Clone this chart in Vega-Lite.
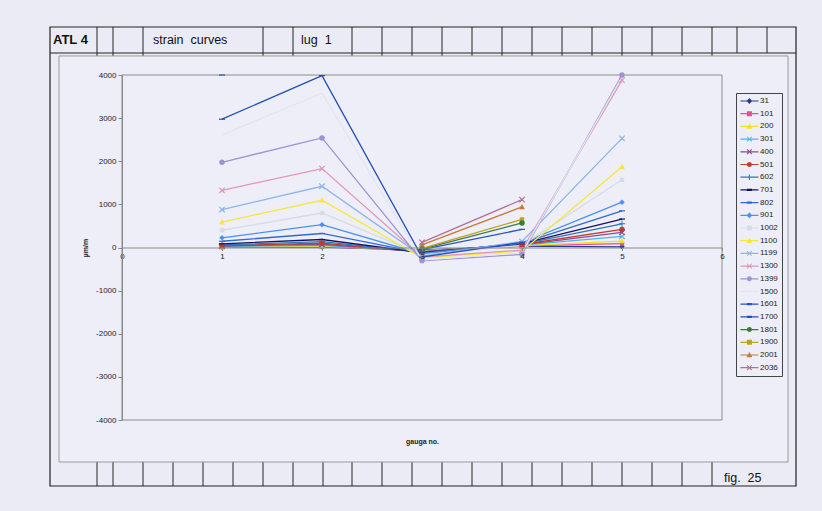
{
"$schema":"https://vega.github.io/schema/vega-lite/v6.json",
"width":600,"height":345,
"autosize":{"type":"none"},
"padding":{"left":122,"top":75,"right":100,"bottom":91},
"background":"#ebebf5",
"config":{"view":{"stroke":null},"font":"Liberation Sans",
 "legend":{"orient":"none","legendX":614,"legendY":18,"labelFontSize":8,"labelFont":"Liberation Sans","labelColor":"#222","padding":4,"strokeColor":"#444","fillColor":"#eeeef8","rowPadding":4.7,"symbolSize":52,"labelOffset":12,"symbolStrokeWidth":0}},
"data":{"values":[
{"series":"31","gauge":1,"strain":5},{"series":"31","gauge":2,"strain":10},{"series":"31","gauge":3,"strain":-60},{"series":"31","gauge":4,"strain":30},{"series":"31","gauge":5,"strain":15},
{"series":"101","gauge":1,"strain":10},{"series":"101","gauge":2,"strain":20},{"series":"101","gauge":3,"strain":-70},{"series":"101","gauge":4,"strain":40},{"series":"101","gauge":5,"strain":90},
{"series":"200","gauge":1,"strain":15},{"series":"200","gauge":2,"strain":35},{"series":"200","gauge":3,"strain":-80},{"series":"200","gauge":4,"strain":45},{"series":"200","gauge":5,"strain":150},
{"series":"301","gauge":1,"strain":25},{"series":"301","gauge":2,"strain":50},{"series":"301","gauge":3,"strain":-90},{"series":"301","gauge":4,"strain":55},{"series":"301","gauge":5,"strain":260},
{"series":"400","gauge":1,"strain":35},{"series":"400","gauge":2,"strain":75},{"series":"400","gauge":3,"strain":-100},{"series":"400","gauge":4,"strain":60},{"series":"400","gauge":5,"strain":350},
{"series":"501","gauge":1,"strain":45},{"series":"501","gauge":2,"strain":100},{"series":"501","gauge":3,"strain":-100},{"series":"501","gauge":4,"strain":70},{"series":"501","gauge":5,"strain":420},
{"series":"602","gauge":1,"strain":60},{"series":"602","gauge":2,"strain":135},{"series":"602","gauge":3,"strain":-110},{"series":"602","gauge":4,"strain":80},{"series":"602","gauge":5,"strain":550},
{"series":"701","gauge":1,"strain":85},{"series":"701","gauge":2,"strain":185},{"series":"701","gauge":3,"strain":-120},{"series":"701","gauge":4,"strain":90},{"series":"701","gauge":5,"strain":660},
{"series":"802","gauge":1,"strain":145},{"series":"802","gauge":2,"strain":325},{"series":"802","gauge":3,"strain":-130},{"series":"802","gauge":4,"strain":100},{"series":"802","gauge":5,"strain":850},
{"series":"901","gauge":1,"strain":225},{"series":"901","gauge":2,"strain":530},{"series":"901","gauge":3,"strain":-150},{"series":"901","gauge":4,"strain":110},{"series":"901","gauge":5,"strain":1050},
{"series":"1002","gauge":1,"strain":400},{"series":"1002","gauge":2,"strain":800},{"series":"1002","gauge":3,"strain":-170},{"series":"1002","gauge":4,"strain":50},{"series":"1002","gauge":5,"strain":1570},
{"series":"1100","gauge":1,"strain":590},{"series":"1100","gauge":2,"strain":1095},{"series":"1100","gauge":3,"strain":-240},{"series":"1100","gauge":4,"strain":-85},{"series":"1100","gauge":5,"strain":1870},
{"series":"1199","gauge":1,"strain":880},{"series":"1199","gauge":2,"strain":1420},{"series":"1199","gauge":3,"strain":-200},{"series":"1199","gauge":4,"strain":140},{"series":"1199","gauge":5,"strain":2530},
{"series":"1300","gauge":1,"strain":1325},{"series":"1300","gauge":2,"strain":1830},{"series":"1300","gauge":3,"strain":-220},{"series":"1300","gauge":4,"strain":-60},{"series":"1300","gauge":5,"strain":3880},
{"series":"1399","gauge":1,"strain":1975},{"series":"1399","gauge":2,"strain":2540},{"series":"1399","gauge":3,"strain":-310},{"series":"1399","gauge":4,"strain":-160},{"series":"1399","gauge":5,"strain":4000},
{"series":"1500","gauge":1,"strain":2610},{"series":"1500","gauge":2,"strain":3580},{"series":"1500","gauge":3,"strain":-290},{"series":"1500","gauge":4,"strain":-120},{"series":"1500","gauge":5,"strain":3950},
{"series":"1601","gauge":1,"strain":4000},{"series":"1601","gauge":2,"strain":null},{"series":"1601","gauge":3,"strain":-50},{"series":"1601","gauge":4,"strain":420},
{"series":"1700","gauge":1,"strain":2975},{"series":"1700","gauge":2,"strain":3985},{"series":"1700","gauge":3,"strain":-220},{"series":"1700","gauge":4,"strain":120},
{"series":"1801","gauge":3,"strain":-40},{"series":"1801","gauge":4,"strain":570},
{"series":"1900","gauge":3,"strain":-20},{"series":"1900","gauge":4,"strain":650},
{"series":"2001","gauge":3,"strain":60},{"series":"2001","gauge":4,"strain":940},
{"series":"2036","gauge":3,"strain":120},{"series":"2036","gauge":4,"strain":1110}
]},
"layer":[
{"data":{"values":[{}]},"mark":{"type":"rule","color":"#222","strokeWidth":1},"encoding":{"x":{"datum":-0.25,"scale":{"domain":[0,6],"nice":false,"zero":false}},"y":{"datum":5113,"scale":{"domain":[-4000,4000],"nice":false,"zero":false}},"y2":{"datum":-5530}}},
{"data":{"values":[{}]},"mark":{"type":"rule","color":"#222","strokeWidth":1},"encoding":{"x":{"datum":-0.09,"scale":{"domain":[0,6],"nice":false,"zero":false}},"y":{"datum":5113,"scale":{"domain":[-4000,4000],"nice":false,"zero":false}},"y2":{"datum":-5530}}},
{"data":{"values":[{}]},"mark":{"type":"rule","color":"#222","strokeWidth":1},"encoding":{"x":{"datum":0.21,"scale":{"domain":[0,6],"nice":false,"zero":false}},"y":{"datum":5113,"scale":{"domain":[-4000,4000],"nice":false,"zero":false}},"y2":{"datum":-5530}}},
{"data":{"values":[{}]},"mark":{"type":"rule","color":"#222","strokeWidth":1},"encoding":{"x":{"datum":1.41,"scale":{"domain":[0,6],"nice":false,"zero":false}},"y":{"datum":5113,"scale":{"domain":[-4000,4000],"nice":false,"zero":false}},"y2":{"datum":-5530}}},
{"data":{"values":[{}]},"mark":{"type":"rule","color":"#222","strokeWidth":1},"encoding":{"x":{"datum":1.71,"scale":{"domain":[0,6],"nice":false,"zero":false}},"y":{"datum":5113,"scale":{"domain":[-4000,4000],"nice":false,"zero":false}},"y2":{"datum":-5530}}},
{"data":{"values":[{}]},"mark":{"type":"rule","color":"#222","strokeWidth":1},"encoding":{"x":{"datum":2.30,"scale":{"domain":[0,6],"nice":false,"zero":false}},"y":{"datum":5113,"scale":{"domain":[-4000,4000],"nice":false,"zero":false}},"y2":{"datum":-5530}}},
{"data":{"values":[{}]},"mark":{"type":"rule","color":"#222","strokeWidth":1},"encoding":{"x":{"datum":2.60,"scale":{"domain":[0,6],"nice":false,"zero":false}},"y":{"datum":5113,"scale":{"domain":[-4000,4000],"nice":false,"zero":false}},"y2":{"datum":-5530}}},
{"data":{"values":[{}]},"mark":{"type":"rule","color":"#222","strokeWidth":1},"encoding":{"x":{"datum":2.90,"scale":{"domain":[0,6],"nice":false,"zero":false}},"y":{"datum":5113,"scale":{"domain":[-4000,4000],"nice":false,"zero":false}},"y2":{"datum":-5530}}},
{"data":{"values":[{}]},"mark":{"type":"rule","color":"#222","strokeWidth":1},"encoding":{"x":{"datum":3.20,"scale":{"domain":[0,6],"nice":false,"zero":false}},"y":{"datum":5113,"scale":{"domain":[-4000,4000],"nice":false,"zero":false}},"y2":{"datum":-5530}}},
{"data":{"values":[{}]},"mark":{"type":"rule","color":"#222","strokeWidth":1},"encoding":{"x":{"datum":3.50,"scale":{"domain":[0,6],"nice":false,"zero":false}},"y":{"datum":5113,"scale":{"domain":[-4000,4000],"nice":false,"zero":false}},"y2":{"datum":-5530}}},
{"data":{"values":[{}]},"mark":{"type":"rule","color":"#222","strokeWidth":1},"encoding":{"x":{"datum":3.80,"scale":{"domain":[0,6],"nice":false,"zero":false}},"y":{"datum":5113,"scale":{"domain":[-4000,4000],"nice":false,"zero":false}},"y2":{"datum":-5530}}},
{"data":{"values":[{}]},"mark":{"type":"rule","color":"#222","strokeWidth":1},"encoding":{"x":{"datum":4.10,"scale":{"domain":[0,6],"nice":false,"zero":false}},"y":{"datum":5113,"scale":{"domain":[-4000,4000],"nice":false,"zero":false}},"y2":{"datum":-5530}}},
{"data":{"values":[{}]},"mark":{"type":"rule","color":"#222","strokeWidth":1},"encoding":{"x":{"datum":4.40,"scale":{"domain":[0,6],"nice":false,"zero":false}},"y":{"datum":5113,"scale":{"domain":[-4000,4000],"nice":false,"zero":false}},"y2":{"datum":-5530}}},
{"data":{"values":[{}]},"mark":{"type":"rule","color":"#222","strokeWidth":1},"encoding":{"x":{"datum":4.70,"scale":{"domain":[0,6],"nice":false,"zero":false}},"y":{"datum":5113,"scale":{"domain":[-4000,4000],"nice":false,"zero":false}},"y2":{"datum":-5530}}},
{"data":{"values":[{}]},"mark":{"type":"rule","color":"#222","strokeWidth":1},"encoding":{"x":{"datum":5.00,"scale":{"domain":[0,6],"nice":false,"zero":false}},"y":{"datum":5113,"scale":{"domain":[-4000,4000],"nice":false,"zero":false}},"y2":{"datum":-5530}}},
{"data":{"values":[{}]},"mark":{"type":"rule","color":"#222","strokeWidth":1},"encoding":{"x":{"datum":5.30,"scale":{"domain":[0,6],"nice":false,"zero":false}},"y":{"datum":5113,"scale":{"domain":[-4000,4000],"nice":false,"zero":false}},"y2":{"datum":-5530}}},
{"data":{"values":[{}]},"mark":{"type":"rule","color":"#222","strokeWidth":1},"encoding":{"x":{"datum":5.60,"scale":{"domain":[0,6],"nice":false,"zero":false}},"y":{"datum":5113,"scale":{"domain":[-4000,4000],"nice":false,"zero":false}},"y2":{"datum":-5530}}},
{"data":{"values":[{}]},"mark":{"type":"rule","color":"#222","strokeWidth":1},"encoding":{"x":{"datum":5.90,"scale":{"domain":[0,6],"nice":false,"zero":false}},"y":{"datum":5113,"scale":{"domain":[-4000,4000],"nice":false,"zero":false}},"y2":{"datum":-5530}}},
{"data":{"values":[{}]},"mark":{"type":"rule","color":"#222","strokeWidth":1},"encoding":{"x":{"datum":6.15,"scale":{"domain":[0,6],"nice":false,"zero":false}},"y":{"datum":5113,"scale":{"domain":[-4000,4000],"nice":false,"zero":false}},"y2":{"datum":4510}}},
{"data":{"values":[{}]},"mark":{"type":"rule","color":"#222","strokeWidth":1},"encoding":{"x":{"datum":6.45,"scale":{"domain":[0,6],"nice":false,"zero":false}},"y":{"datum":5113,"scale":{"domain":[-4000,4000],"nice":false,"zero":false}},"y2":{"datum":4510}}},
{"data":{"values":[{}]},"mark":{"type":"rule","color":"#222","strokeWidth":1},"encoding":{"x":{"datum":0.51,"scale":{"domain":[0,6],"nice":false,"zero":false}},"y":{"datum":-4974,"scale":{"domain":[-4000,4000],"nice":false,"zero":false}},"y2":{"datum":-5530}}},
{"data":{"values":[{}]},"mark":{"type":"rule","color":"#222","strokeWidth":1},"encoding":{"x":{"datum":0.81,"scale":{"domain":[0,6],"nice":false,"zero":false}},"y":{"datum":-4974,"scale":{"domain":[-4000,4000],"nice":false,"zero":false}},"y2":{"datum":-5530}}},
{"data":{"values":[{}]},"mark":{"type":"rule","color":"#222","strokeWidth":1},"encoding":{"x":{"datum":1.11,"scale":{"domain":[0,6],"nice":false,"zero":false}},"y":{"datum":-4974,"scale":{"domain":[-4000,4000],"nice":false,"zero":false}},"y2":{"datum":-5530}}},
{"data":{"values":[{}]},"mark":{"type":"rule","color":"#222","strokeWidth":1},"encoding":{"x":{"datum":2.01,"scale":{"domain":[0,6],"nice":false,"zero":false}},"y":{"datum":-4974,"scale":{"domain":[-4000,4000],"nice":false,"zero":false}},"y2":{"datum":-5530}}},
{"data":{"values":[{}]},"mark":{"type":"rect","fill":"#eeeef8","stroke":"#9a9a9a","strokeWidth":1},"encoding":{"x":{"datum":-0.63,"scale":{"domain":[0,6],"nice":false,"zero":false}},"x2":{"datum":6.66},"y":{"datum":4441,"scale":{"domain":[-4000,4000],"nice":false,"zero":false}},"y2":{"datum":-4974}}},
{"data":{"values":[{}]},"mark":{"type":"rect","fillOpacity":0,"stroke":"#222","strokeWidth":1.2},"encoding":{"x":{"datum":-0.72,"scale":{"domain":[0,6],"nice":false,"zero":false}},"x2":{"datum":6.74},"y":{"datum":5113,"scale":{"domain":[-4000,4000],"nice":false,"zero":false}},"y2":{"datum":-5530}}},
{"data":{"values":[{}]},"mark":{"type":"rule","color":"#222","strokeWidth":1},"encoding":{"x":{"datum":-0.72,"scale":{"domain":[0,6],"nice":false,"zero":false}},"x2":{"datum":6.74},"y":{"datum":4510,"scale":{"domain":[-4000,4000],"nice":false,"zero":false}}}},
{"data":{"values":[{}]},"mark":{"type":"rect","fillOpacity":0,"stroke":"#8c8c8c","strokeWidth":1},"encoding":{"x":{"datum":0,"scale":{"domain":[0,6],"nice":false,"zero":false}},"x2":{"datum":6},"y":{"datum":4000,"scale":{"domain":[-4000,4000],"nice":false,"zero":false}},"y2":{"datum":-4000}}},
{"data":{"values":[{}]},"mark":{"type":"text","text":"ATL 4","align":"left","baseline":"middle","fontSize":13,"fontWeight":"bold","color":"#111"},"encoding":{"x":{"datum":-0.69,"scale":{"domain":[0,6],"nice":false,"zero":false}},"y":{"datum":4812,"scale":{"domain":[-4000,4000],"nice":false,"zero":false}}}},
{"data":{"values":[{}]},"mark":{"type":"text","text":"strain\u00a0 curves","align":"left","baseline":"middle","fontSize":12.5,"color":"#111"},"encoding":{"x":{"datum":0.31,"scale":{"domain":[0,6],"nice":false,"zero":false}},"y":{"datum":4812,"scale":{"domain":[-4000,4000],"nice":false,"zero":false}}}},
{"data":{"values":[{}]},"mark":{"type":"text","text":"lug\u00a0 1","align":"left","baseline":"middle","fontSize":12.5,"color":"#111"},"encoding":{"x":{"datum":1.79,"scale":{"domain":[0,6],"nice":false,"zero":false}},"y":{"datum":4812,"scale":{"domain":[-4000,4000],"nice":false,"zero":false}}}},
{"data":{"values":[{}]},"mark":{"type":"text","text":"fig.\u00a0 25","align":"left","baseline":"middle","fontSize":12.5,"color":"#111"},"encoding":{"x":{"datum":6.02,"scale":{"domain":[0,6],"nice":false,"zero":false}},"y":{"datum":-5348,"scale":{"domain":[-4000,4000],"nice":false,"zero":false}}}},
{"mark":{"type":"line","strokeWidth":1.3},
 "encoding":{
  "x":{"field":"gauge","type":"quantitative","scale":{"domain":[0,6],"nice":false,"zero":false},
       "axis":{"values":[0,1,2,3,4,5,6],"labelExpr":"'' + datum.value","offset":-172.5,"zindex":1,"labelFontSize":8,"labelColor":"#222","tickSize":3,"tickColor":"#888","domainColor":"#888","labelPadding":2,"labelFlush":false,"grid":false,"title":"gauga no.","titleFontSize":7,"titleFontWeight":"bold","titleColor":"#222","titleX":300,"titleY":189.5}},
  "y":{"field":"strain","type":"quantitative","scale":{"domain":[-4000,4000],"nice":false,"zero":false},
       "axis":{"values":[-4000,-3000,-2000,-1000,0,1000,2000,3000,4000],"labelExpr":"'' + datum.value","zindex":1,"labelFontSize":8,"labelColor":"#222","tickSize":4,"tickColor":"#888","domainColor":"#888","grid":false,"title":"µm/m","titleFontSize":7,"titleFontWeight":"bold","titleColor":"#222","titleX":-34,"titleY":172.5}},
  "color":{"field":"series","type":"nominal","legend":{"title":null},
   "scale":{"domain":["31","101","200","301","400","501","602","701","802","901","1002","1100","1199","1300","1399","1500","1601","1700","1801","1900","2001","2036"],
            "range":["#2a3a8e","#e2508e","#f2e21e","#4db4ea","#8e4c8e","#c43a32","#2f78b8","#14145e","#3566d6","#4a92ea","#d4dce8","#f6e838","#8cb4ea","#e294b4","#9c94d4","#e2e6f2","#2456c4","#2250b6","#3c7a3c","#bca222","#c47c34","#b27294"]}}}},
{"transform":[{"filter":{"field":"series","oneOf":["31","901"]}}],"mark":{"type":"point","filled":true,"opacity":1,"size":30,"shape":"M0,-1L1,0L0,1L-1,0Z"},"encoding":{"x":{"field":"gauge","type":"quantitative"},"y":{"field":"strain","type":"quantitative"},"color":{"field":"series","type":"nominal","legend":{"title":null}}}},
{"transform":[{"filter":{"field":"series","oneOf":["101","1002","1900"]}}],"mark":{"type":"point","filled":true,"opacity":1,"size":30,"shape":"M-0.8,-0.8H0.8V0.8H-0.8Z"},"encoding":{"x":{"field":"gauge","type":"quantitative"},"y":{"field":"strain","type":"quantitative"},"color":{"field":"series","type":"nominal","legend":{"title":null}}}},
{"transform":[{"filter":{"field":"series","oneOf":["200","1100","2001"]}}],"mark":{"type":"point","filled":true,"opacity":1,"size":34,"shape":"M0,-1L1,0.8H-1Z"},"encoding":{"x":{"field":"gauge","type":"quantitative"},"y":{"field":"strain","type":"quantitative"},"color":{"field":"series","type":"nominal","legend":{"title":null}}}},
{"transform":[{"filter":{"field":"series","oneOf":["301","400","1199","1300","2036"]}}],"mark":{"type":"point","filled":true,"opacity":1,"size":40,"shape":"M-1,-0.73L-0.73,-1L0,-0.27L0.73,-1L1,-0.73L0.27,0L1,0.73L0.73,1L0,0.27L-0.73,1L-1,0.73L-0.27,0Z"},"encoding":{"x":{"field":"gauge","type":"quantitative"},"y":{"field":"strain","type":"quantitative"},"color":{"field":"series","type":"nominal","legend":{"title":null}}}},
{"transform":[{"filter":{"field":"series","oneOf":["602"]}}],"mark":{"type":"point","filled":true,"opacity":1,"size":40,"shape":"M-1,-0.15H-0.15V-1H0.15V-0.15H1V0.15H0.15V1H-0.15V0.15H-1Z"},"encoding":{"x":{"field":"gauge","type":"quantitative"},"y":{"field":"strain","type":"quantitative"},"color":{"field":"series","type":"nominal","legend":{"title":null}}}},
{"transform":[{"filter":{"field":"series","oneOf":["501","1399","1801"]}}],"mark":{"type":"point","filled":true,"opacity":1,"size":30,"shape":"circle"},"encoding":{"x":{"field":"gauge","type":"quantitative"},"y":{"field":"strain","type":"quantitative"},"color":{"field":"series","type":"nominal","legend":{"title":null}}}},
{"transform":[{"filter":{"field":"series","oneOf":["701","802","1601","1700"]}}],"mark":{"type":"point","filled":true,"opacity":1,"size":36,"shape":"M-1,-0.2H1V0.2H-1Z"},"encoding":{"x":{"field":"gauge","type":"quantitative"},"y":{"field":"strain","type":"quantitative"},"color":{"field":"series","type":"nominal","legend":{"title":null}}}},
{"transform":[{"filter":"false"}],"mark":{"type":"point","filled":true,"opacity":1,"size":52},
 "encoding":{"x":{"field":"gauge","type":"quantitative"},"y":{"field":"strain","type":"quantitative"},
  "color":{"field":"series","type":"nominal","legend":{"title":null}},
  "shape":{"field":"series","type":"nominal","legend":{"title":null},
   "scale":{"domain":["31","101","200","301","400","501","602","701","802","901","1002","1100","1199","1300","1399","1500","1601","1700","1801","1900","2001","2036"],
   "range":[
   "M-1,-0.17H4V0.17H-1ZM1.5,-0.8L2.3,0L1.5,0.8L0.7,0Z",
   "M-1,-0.17H4V0.17H-1ZM0.8,-0.7H2.2V0.7H0.8Z",
   "M-1,-0.17H4V0.17H-1ZM1.5,-0.8L2.3,0.65H0.7Z",
   "M-1,-0.17H4V0.17H-1ZM0.75,-0.55L0.95,-0.75L1.5,-0.2L2.05,-0.75L2.25,-0.55L1.7,0L2.25,0.55L2.05,0.75L1.5,0.2L0.95,0.75L0.75,0.55L1.3,0Z",
   "M-1,-0.17H4V0.17H-1ZM0.75,-0.55L0.95,-0.75L1.5,-0.2L2.05,-0.75L2.25,-0.55L1.7,0L2.25,0.55L2.05,0.75L1.5,0.2L0.95,0.75L0.75,0.55L1.3,0Z",
   "M-1,-0.17H4V0.17H-1ZM0.8,0A0.7,0.7,0,1,1,2.2,0A0.7,0.7,0,1,1,0.8,0Z",
   "M-1,-0.17H4V0.17H-1ZM0.75,-0.15H1.35V-0.75H1.65V-0.15H2.25V0.15H1.65V0.75H1.35V0.15H0.75Z",
   "M-1,-0.17H4V0.17H-1ZM0.8,-0.3H2.2V0.3H0.8Z",
   "M-1,-0.17H4V0.17H-1ZM0.8,-0.3H2.2V0.3H0.8Z",
   "M-1,-0.17H4V0.17H-1ZM1.5,-0.8L2.3,0L1.5,0.8L0.7,0Z",
   "M-1,-0.17H4V0.17H-1ZM0.8,-0.7H2.2V0.7H0.8Z",
   "M-1,-0.17H4V0.17H-1ZM1.5,-0.8L2.3,0.65H0.7Z",
   "M-1,-0.17H4V0.17H-1ZM0.75,-0.55L0.95,-0.75L1.5,-0.2L2.05,-0.75L2.25,-0.55L1.7,0L2.25,0.55L2.05,0.75L1.5,0.2L0.95,0.75L0.75,0.55L1.3,0Z",
   "M-1,-0.17H4V0.17H-1ZM0.75,-0.55L0.95,-0.75L1.5,-0.2L2.05,-0.75L2.25,-0.55L1.7,0L2.25,0.55L2.05,0.75L1.5,0.2L0.95,0.75L0.75,0.55L1.3,0Z",
   "M-1,-0.17H4V0.17H-1ZM0.8,0A0.7,0.7,0,1,1,2.2,0A0.7,0.7,0,1,1,0.8,0Z",
   "M-1,-0.17H4V0.17H-1Z",
   "M-1,-0.17H4V0.17H-1ZM0.8,-0.3H2.2V0.3H0.8Z",
   "M-1,-0.17H4V0.17H-1ZM0.8,-0.3H2.2V0.3H0.8Z",
   "M-1,-0.17H4V0.17H-1ZM0.8,0A0.7,0.7,0,1,1,2.2,0A0.7,0.7,0,1,1,0.8,0Z",
   "M-1,-0.17H4V0.17H-1ZM0.8,-0.7H2.2V0.7H0.8Z",
   "M-1,-0.17H4V0.17H-1ZM1.5,-0.8L2.3,0.65H0.7Z",
   "M-1,-0.17H4V0.17H-1ZM0.75,-0.55L0.95,-0.75L1.5,-0.2L2.05,-0.75L2.25,-0.55L1.7,0L2.25,0.55L2.05,0.75L1.5,0.2L0.95,0.75L0.75,0.55L1.3,0Z"
   ]}}}}
]
}
